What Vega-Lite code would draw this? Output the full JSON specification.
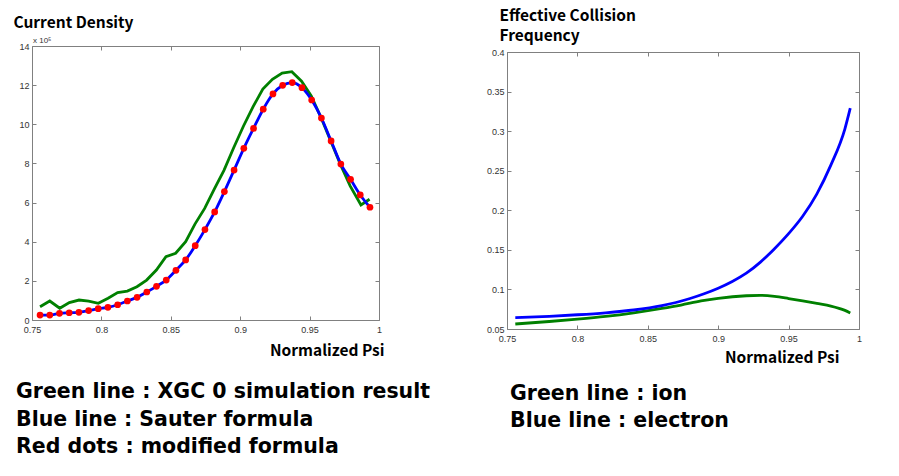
{
  "$schema": "https://vega.github.io/schema/vega-lite/v6.json",
  "background": "white",
  "padding": {"left": 12, "top": 7, "right": 5, "bottom": 5},
  "spacing": 128,
  "bounds": "flush",
  "datasets": {
    "leftGreen": [
      {"psi": 0.7558, "J": 0.68}, {"psi": 0.7628, "J": 0.97}, {"psi": 0.77, "J": 0.6}, {"psi": 0.7769, "J": 0.89},
      {"psi": 0.7839, "J": 1.02}, {"psi": 0.7908, "J": 0.97}, {"psi": 0.7978, "J": 0.85}, {"psi": 0.8048, "J": 1.11},
      {"psi": 0.8117, "J": 1.4}, {"psi": 0.8187, "J": 1.48}, {"psi": 0.8256, "J": 1.7}, {"psi": 0.8326, "J": 2.04},
      {"psi": 0.8396, "J": 2.55}, {"psi": 0.8465, "J": 3.24}, {"psi": 0.8535, "J": 3.41}, {"psi": 0.8607, "J": 4.0},
      {"psi": 0.8674, "J": 4.9}, {"psi": 0.8744, "J": 5.7}, {"psi": 0.8814, "J": 6.7}, {"psi": 0.8883, "J": 7.65},
      {"psi": 0.8953, "J": 8.8}, {"psi": 0.9023, "J": 9.9}, {"psi": 0.9093, "J": 10.9}, {"psi": 0.9163, "J": 11.8},
      {"psi": 0.9232, "J": 12.3}, {"psi": 0.9302, "J": 12.62}, {"psi": 0.9372, "J": 12.69}, {"psi": 0.9442, "J": 12.2},
      {"psi": 0.9512, "J": 11.45}, {"psi": 0.9582, "J": 10.35}, {"psi": 0.9652, "J": 9.15}, {"psi": 0.9722, "J": 7.95},
      {"psi": 0.9792, "J": 6.85}, {"psi": 0.987, "J": 5.88}, {"psi": 0.9932, "J": 6.17}
    ],
    "leftBlue": [
      {"psi": 0.7558, "J": 0.25}, {"psi": 0.7628, "J": 0.25}, {"psi": 0.7698, "J": 0.34}, {"psi": 0.7768, "J": 0.37},
      {"psi": 0.7838, "J": 0.39}, {"psi": 0.7908, "J": 0.48}, {"psi": 0.7977, "J": 0.58}, {"psi": 0.8047, "J": 0.65},
      {"psi": 0.8117, "J": 0.78}, {"psi": 0.8187, "J": 0.97}, {"psi": 0.8257, "J": 1.16}, {"psi": 0.8327, "J": 1.43},
      {"psi": 0.8397, "J": 1.72}, {"psi": 0.8467, "J": 2.04}, {"psi": 0.8537, "J": 2.54}, {"psi": 0.8607, "J": 3.07},
      {"psi": 0.8676, "J": 3.8}, {"psi": 0.8746, "J": 4.62}, {"psi": 0.8816, "J": 5.52}, {"psi": 0.8886, "J": 6.56},
      {"psi": 0.8956, "J": 7.66}, {"psi": 0.9026, "J": 8.77}, {"psi": 0.9096, "J": 9.79}, {"psi": 0.9166, "J": 10.77},
      {"psi": 0.9236, "J": 11.55}, {"psi": 0.9306, "J": 11.99}, {"psi": 0.9375, "J": 12.13}, {"psi": 0.9445, "J": 11.87},
      {"psi": 0.9515, "J": 11.24}, {"psi": 0.9585, "J": 10.32}, {"psi": 0.9655, "J": 9.15}, {"psi": 0.9725, "J": 7.97},
      {"psi": 0.9795, "J": 7.19}, {"psi": 0.9865, "J": 6.39}, {"psi": 0.9935, "J": 5.76}
    ],
    "rightBlue": [
      {"psi": 0.7559, "nu": 0.0643}, {"psi": 0.78, "nu": 0.066}, {"psi": 0.8, "nu": 0.068}, {"psi": 0.82, "nu": 0.0705},
      {"psi": 0.84, "nu": 0.074}, {"psi": 0.86, "nu": 0.0795}, {"psi": 0.87, "nu": 0.0835}, {"psi": 0.88, "nu": 0.0885},
      {"psi": 0.89, "nu": 0.0945}, {"psi": 0.9, "nu": 0.1015}, {"psi": 0.91, "nu": 0.11}, {"psi": 0.92, "nu": 0.1205},
      {"psi": 0.93, "nu": 0.1345}, {"psi": 0.94, "nu": 0.1515}, {"psi": 0.95, "nu": 0.1705}, {"psi": 0.96, "nu": 0.1925},
      {"psi": 0.97, "nu": 0.2205}, {"psi": 0.98, "nu": 0.257}, {"psi": 0.99, "nu": 0.303}, {"psi": 0.9938, "nu": 0.329}
    ],
    "rightGreen": [
      {"psi": 0.7559, "nu": 0.0563}, {"psi": 0.78, "nu": 0.0595}, {"psi": 0.8, "nu": 0.0625}, {"psi": 0.82, "nu": 0.066},
      {"psi": 0.84, "nu": 0.0705}, {"psi": 0.86, "nu": 0.076}, {"psi": 0.8736, "nu": 0.0803}, {"psi": 0.8878, "nu": 0.0855},
      {"psi": 0.9, "nu": 0.0888}, {"psi": 0.92, "nu": 0.092}, {"psi": 0.93, "nu": 0.0925}, {"psi": 0.94, "nu": 0.0912},
      {"psi": 0.95, "nu": 0.0885}, {"psi": 0.96, "nu": 0.0855}, {"psi": 0.97, "nu": 0.0823}, {"psi": 0.98, "nu": 0.079},
      {"psi": 0.99, "nu": 0.0735}, {"psi": 0.9938, "nu": 0.0703}
    ]
  },
  "config": {
    "view": {"stroke": "#808080", "strokeWidth": 1},
    "axis": {
      "grid": false, "domain": false, "ticks": true, "tickSize": -4, "tickColor": "#808080",
      "labelFont": "Liberation Sans", "labelFontSize": 9, "labelColor": "#333333", "labelPadding": 7, "labelFlush": false,
      "titleFont": "Noto Sans CJK KR", "titleFontWeight": "bold", "titleFontSize": 15.5, "titleColor": "#000000"
    },
    "title": {"font": "DejaVu Sans", "fontWeight": "bold", "fontSize": 20.5, "color": "#000000"}
  },
  "hconcat": [
    {
      "width": 347, "height": 274,
      "title": {
        "text": ["Green line : XGC 0 simulation result", "Blue line : Sauter formula", "Red dots : modified formula"],
        "orient": "bottom", "anchor": "start", "frame": "group", "align": "left", "baseline": "top",
        "lineHeight": 27.5, "dx": -16, "offset": 23.5
      },
      "resolve": {"axis": {"x": "independent", "y": "independent"}},
      "layer": [
        {
          "data": {"name": "leftGreen"},
          "mark": {"type": "line", "color": "#008000", "strokeWidth": 2.8},
          "encoding": {
            "x": {"field": "psi", "type": "quantitative", "scale": {"domain": [0.75, 1], "nice": false, "zero": false},
                  "axis": {"orient": "bottom", "values": [0.75, 0.8, 0.85, 0.9, 0.95, 1], "format": "~g", "labelPadding": 9,
                           "title": "Normalized Psi", "titleAnchor": "end", "titleAlign": "right", "titleBaseline": "alphabetic",
                           "titleX": 352, "titleY": 35}},
            "y": {"field": "J", "type": "quantitative", "scale": {"domain": [0, 14], "nice": false},
                  "axis": {"orient": "left", "values": [0, 2, 4, 6, 8, 10, 12, 14],
                           "title": "Current Density", "titleAngle": 0, "titleAlign": "left", "titleBaseline": "alphabetic",
                           "titleX": -19, "titleY": -19}}
          }
        },
        {
          "data": {"name": "leftBlue"},
          "mark": {"type": "line", "color": "#0000ff", "strokeWidth": 2.8, "interpolate": "monotone"},
          "encoding": {
            "x": {"field": "psi", "type": "quantitative",
                  "axis": {"orient": "top", "values": [0.75, 0.8, 0.85, 0.9, 0.95, 1], "labels": false, "title": null}},
            "y": {"field": "J", "type": "quantitative",
                  "axis": {"orient": "right", "values": [0, 2, 4, 6, 8, 10, 12, 14], "labels": false, "title": null}}
          }
        },
        {
          "data": {"name": "leftBlue"},
          "mark": {"type": "circle", "color": "#ff0000", "size": 45, "opacity": 1},
          "encoding": {
            "x": {"field": "psi", "type": "quantitative", "axis": null},
            "y": {"field": "J", "type": "quantitative", "axis": null}
          }
        },
        {
          "data": {"values": [{"label": "x 10⁵"}]},
          "mark": {"type": "text", "align": "left", "baseline": "bottom", "dx": 1, "dy": -1, "fontSize": 8, "font": "Liberation Sans", "color": "#333333"},
          "encoding": {
            "x": {"datum": 0.75, "type": "quantitative", "axis": null},
            "y": {"datum": 14, "type": "quantitative", "axis": null},
            "text": {"field": "label"}
          }
        }
      ]
    },
    {
      "bounds": "flush",
      "spacing": 0,
      "vconcat": [
        {
          "width": 352, "height": 6,
          "view": {"stroke": null},
          "data": {"values": []},
          "mark": {"type": "text"},
          "encoding": {}
        },
        {
          "width": 352, "height": 277,
          "title": {
            "text": ["Green line : ion", "Blue line : electron"],
            "orient": "bottom", "anchor": "start", "frame": "group", "align": "left", "baseline": "top",
            "lineHeight": 27.5, "dx": 3, "offset": 18
          },
          "resolve": {"axis": {"x": "independent", "y": "independent"}},
          "layer": [
            {
              "data": {"name": "rightGreen"},
              "mark": {"type": "line", "color": "#008000", "strokeWidth": 2.8, "interpolate": "monotone"},
              "encoding": {
                "x": {"field": "psi", "type": "quantitative", "scale": {"domain": [0.75, 1], "nice": false, "zero": false},
                      "axis": {"orient": "bottom", "values": [0.75, 0.8, 0.85, 0.9, 0.95, 1], "format": "~g", "labelPadding": 9,
                               "title": "Normalized Psi", "titleAnchor": "end", "titleAlign": "right", "titleBaseline": "alphabetic",
                               "titleX": 332, "titleY": 33}},
                "y": {"field": "nu", "type": "quantitative", "scale": {"domain": [0.05, 0.4], "nice": false, "zero": false},
                      "axis": {"orient": "left", "values": [0.05, 0.1, 0.15, 0.2, 0.25, 0.3, 0.35, 0.4], "format": "~g",
                               "title": ["Effective Collision", "Frequency"], "titleAngle": 0, "titleAlign": "left", "titleBaseline": "alphabetic",
                               "titleLineHeight": 20.5, "titleX": -8, "titleY": -32}}
              }
            },
            {
              "data": {"name": "rightBlue"},
              "mark": {"type": "line", "color": "#0000ff", "strokeWidth": 2.8, "interpolate": "monotone"},
              "encoding": {
                "x": {"field": "psi", "type": "quantitative",
                      "axis": {"orient": "top", "values": [0.75, 0.8, 0.85, 0.9, 0.95, 1], "labels": false, "title": null}},
                "y": {"field": "nu", "type": "quantitative",
                      "axis": {"orient": "right", "values": [0.05, 0.1, 0.15, 0.2, 0.25, 0.3, 0.35, 0.4], "labels": false, "title": null}}
              }
            }
          ]
        }
      ]
    }
  ]
}
